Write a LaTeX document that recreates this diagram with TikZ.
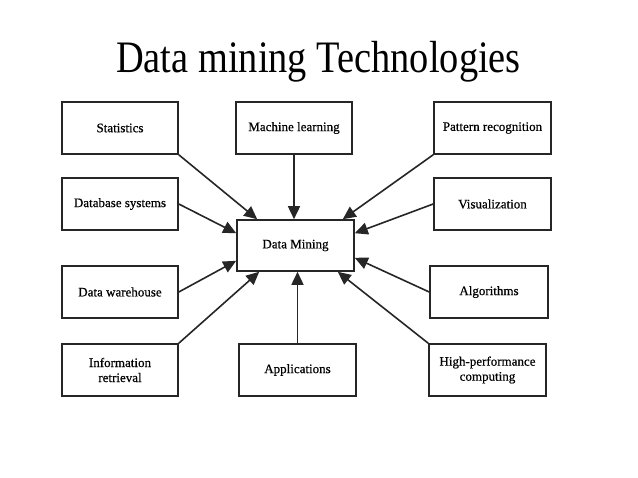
\documentclass[tikz,border=0pt]{standalone}
\usepackage{fontspec}
\setmainfont{Liberation Serif}
\newfontfamily\boxfont{Liberation Serif}[FakeBold=0.6]
\usepackage{graphicx}
\usetikzlibrary{arrows.meta,calc}
\begin{document}
\begin{tikzpicture}[x=1pt,y=-1pt,
  box/.style={draw=black!85, line width=1.6pt, fill=white, inner sep=0pt,
    minimum width=116pt, minimum height=52pt, align=center,
    font=\boxfont\fontsize{13}{15}\selectfont},
  arr/.style={draw=black!85, line width=1.6pt, -{Triangle[length=13pt,width=12pt]}}]
\useasboundingbox[fill=white] (0,0) rectangle (638,478);
\node[font=\fontsize{45}{50}\selectfont, anchor=base, inner sep=0pt] (title) at (318.5,73) {\scalebox{0.853}[1]{Data mining Technologies}};
\node[box] (stat) at (120,128) {Statistics};
\node[box] (ml) at (294,128) {Machine learning};
\node[box, minimum width=117pt] (pat) at (492.5,128) {Pattern recognition};
\node[box] (db) at (120,204) {Database systems};
\node[box, minimum width=117pt] (vis) at (492.5,204) {Visualization};
\node[box, minimum width=117pt, minimum height=51pt] (dm) at (295.5,245.5) {Data Mining};
\node[box] (dw) at (120,292) {Data warehouse};
\node[box, minimum width=118pt] (alg) at (489,292) {Algorithms};
\node[box] (ir) at (120,370) {Information\\retrieval};
\node[box, minimum width=117pt] (app) at (297.5,370) {Applications};
\node[box, minimum width=117pt] (hpc) at (487.5,370) {High-performance\\computing};
\draw[arr] (stat.south east) -- ($(dm.north west)+(21,0)$);
\draw[arr] (ml.south) -- (ml.south |- dm.north);
\draw[arr] (pat.south west) -- ($(dm.north east)+(-12,0)$);
\draw[arr] (db.east) -- ($(dm.north west)+(0,14)$);
\draw[arr] (vis.west) -- ($(dm.north east)+(0,14)$);
\draw[arr] (dw.east) -- ($(dm.south west)+(0,-11)$);
\draw[arr] (alg.west) -- ($(dm.south east)+(0,-14)$);
\draw[arr] (ir.north east) -- ($(dm.south west)+(23,0)$);
\draw[arr] (app.north) -- (app.north |- dm.south);
\draw[arr] (hpc.north west) -- ($(dm.south east)+(-17,0)$);
\end{tikzpicture}
\end{document}
